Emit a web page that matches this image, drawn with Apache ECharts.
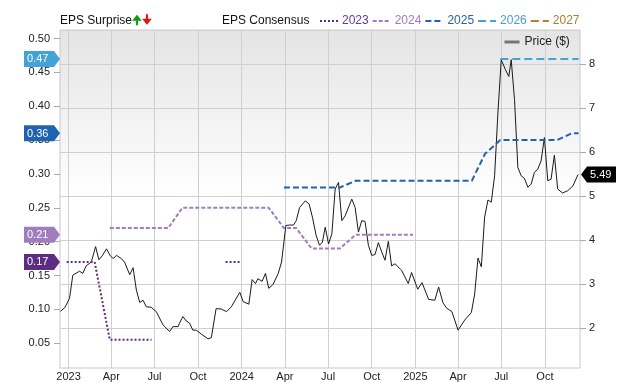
<!DOCTYPE html>
<html><head><meta charset="utf-8">
<script src="https://cdn.jsdelivr.net/npm/echarts@6/dist/echarts.min.js"></script>
<style>html,body{margin:0;padding:0;background:#fff}#c{width:640px;height:382px}</style>
</head><body><div id="c"></div>
<script>
const FONT = '"Liberation Sans", Arial, sans-serif';

// ---- axes ----
const xRange = ['2022-12-14', '2025-12-14'];
const xTicks = ['2023-01-01','2023-04-01','2023-07-01','2023-10-01','2024-01-01','2024-04-01','2024-07-01','2024-10-01','2025-01-01','2025-04-01','2025-07-01','2025-10-01'];
const monthLabels = {3:'Apr', 6:'Jul', 9:'Oct'};
const epsRange = [0.0133, 0.5127];
const epsTicks = [0.05,0.10,0.15,0.20,0.25,0.30,0.35,0.40,0.45,0.50];
const priceRange = [1.089, 8.776];
const priceTicks = [2,3,4,5,6,7,8];

// ---- price ($) ----
const priceDates = ['2022-12-15','2022-12-24','2023-01-03','2023-01-10','2023-01-24','2023-01-31','2023-02-07','2023-02-18','2023-02-27','2023-03-06','2023-03-13','2023-03-22','2023-03-30','2023-04-05','2023-04-12','2023-04-22','2023-04-29','2023-05-10','2023-05-17','2023-05-24','2023-05-31','2023-06-07','2023-06-14','2023-06-24','2023-07-05','2023-07-19','2023-08-02','2023-08-09','2023-08-20','2023-08-23','2023-08-30','2023-09-06','2023-09-13','2023-09-20','2023-09-27','2023-10-08','2023-10-22','2023-10-29','2023-11-08','2023-11-19','2023-11-30','2023-12-10','2023-12-28','2024-01-04','2024-01-16','2024-01-23','2024-01-30','2024-02-04','2024-02-13','2024-02-20','2024-02-27','2024-03-07','2024-03-18','2024-03-25','2024-04-03','2024-04-11','2024-04-19','2024-04-25','2024-05-02','2024-05-14','2024-05-22','2024-05-29','2024-06-06','2024-06-13','2024-06-19','2024-06-25','2024-07-02','2024-07-09','2024-07-16','2024-07-23','2024-07-30','2024-08-06','2024-08-20','2024-08-27','2024-09-03','2024-09-10','2024-09-17','2024-09-24','2024-10-01','2024-10-08','2024-10-15','2024-10-22','2024-10-29','2024-11-05','2024-11-12','2024-11-19','2024-12-03','2024-12-17','2024-12-24','2025-01-06','2025-01-15','2025-01-29','2025-02-11','2025-02-19','2025-02-28','2025-03-07','2025-03-19','2025-04-01','2025-04-15','2025-04-29','2025-05-06','2025-05-13','2025-05-20','2025-05-27','2025-06-03','2025-06-10','2025-06-17','2025-06-24','2025-07-01','2025-07-10','2025-07-17','2025-07-22','2025-07-29','2025-08-05','2025-08-12','2025-08-19','2025-08-26','2025-09-02','2025-09-09','2025-09-16','2025-09-23','2025-09-30','2025-10-07','2025-10-14','2025-10-21','2025-10-28','2025-11-07','2025-11-18','2025-11-29','2025-12-10'];
const priceValues = [2.38,2.46,2.67,3.20,3.29,3.24,3.41,3.50,3.85,3.55,3.64,3.80,3.64,3.58,3.65,3.58,3.50,3.21,3.37,2.86,2.58,2.63,2.48,2.47,2.37,2.07,1.92,2.03,2.03,2.11,2.26,2.16,2.11,1.95,1.95,1.86,1.75,1.78,2.44,2.43,2.37,2.48,2.81,2.60,2.54,3.10,3.01,3.12,3.06,3.24,2.90,2.99,3.24,3.50,4.33,4.34,4.34,4.44,4.74,4.89,4.82,4.52,4.10,3.88,3.95,4.29,3.91,4.14,5.16,5.31,4.44,4.55,4.93,4.74,4.18,4.44,4.42,3.88,3.65,3.67,3.94,3.73,3.54,3.97,3.41,3.46,3.31,3.01,3.26,2.88,3.03,2.65,2.63,2.93,2.58,2.46,2.37,1.95,2.18,2.35,2.77,3.59,3.39,4.52,4.91,4.86,5.46,6.89,8.10,7.87,7.72,8.10,7.19,5.65,5.46,5.40,5.20,5.27,5.54,5.61,5.80,6.33,5.35,5.38,5.93,5.16,5.07,5.12,5.23,5.49];

// ---- EPS consensus by fiscal year (null = gap) ----
const eps2023Dates = ['2022-12-28','2023-02-25','2023-03-29','2023-06-25','2023-09-01','2023-11-28','2023-12-28'];
const eps2023Values = [0.17,0.17,0.055,0.055,null,0.17,0.17];
const eps2024Dates = ['2023-03-29','2023-07-30','2023-08-29','2024-02-27','2024-03-30','2024-04-25','2024-05-27','2024-07-26','2024-08-28','2024-12-27'];
const eps2024Values = [0.22,0.22,0.25,0.25,0.22,0.22,0.19,0.19,0.21,0.21];
const eps2025Dates = ['2024-03-30','2024-07-26','2024-08-28','2025-04-30','2025-05-28','2025-06-29','2025-10-26','2025-11-27','2025-12-11'];
const eps2025Values = [0.28,0.28,0.29,0.29,0.33,0.35,0.35,0.36,0.36];
const eps2026Dates = ['2025-06-29','2025-12-11'];
const eps2026Values = [0.47,0.47];
const eps2027Dates = [];
const eps2027Values = [];

const yearNames = ['2023','2024','2025','2026','2027'];
const yearColors = ['#5c2d83','#a27dbd','#1f63b0','#41a3d6','#b07f2f'];
const yearText = ['#6a3a90','#a07cb8','#2a62ab','#4a9fcf','#a87c3a'];
const yearDash = [[2,2],[4,2],[6,3],[8,4],[8,4]];

const t = s => Date.parse(s + 'T00:00:00Z');
const pairs = (ds, vs) => ds.map((d, i) => [t(d), vs[i] === null ? '-' : vs[i]]);
const epsSets = [[eps2023Dates,eps2023Values],[eps2024Dates,eps2024Values],[eps2025Dates,eps2025Values],[eps2026Dates,eps2026Values],[eps2027Dates,eps2027Values]];

const chart = echarts.init(document.getElementById('c'), null, {renderer: 'canvas'});

const series = [{
  name: 'Price ($)', type: 'line', xAxisIndex: 0, yAxisIndex: 1, symbol: 'none', z: 2,
  data: pairs(priceDates, priceValues),
  lineStyle: {color: '#1a1a1a', width: 1}, itemStyle: {color: '#1a1a1a'}
}];
epsSets.forEach((s, i) => {
  series.push({
    name: yearNames[i], type: 'line', xAxisIndex: 0, yAxisIndex: 0, symbol: 'none', z: 3,
    data: pairs(s[0], s[1]), connectNulls: false,
    lineStyle: {color: yearColors[i], width: 2, type: yearDash[i]}, itemStyle: {color: yearColors[i]}
  });
});

const hiddenSymbol = {color: 'rgba(0,0,0,0)', borderWidth: 0, opacity: 0};

chart.setOption({
  animation: false,
  textStyle: {fontFamily: FONT},
  title: [
    {text: 'EPS Surprise{u|🠉}{d|🠋}', left: 60, top: 15, padding: 0,
     textStyle: {fontSize: 12, fontWeight: 'normal', color: '#111', fontFamily: FONT,
       rich: {u: {color: '#149a14', fontSize: 12, fontWeight: 'bold', fontFamily: 'DejaVu Sans'},
              d: {color: '#e01515', fontSize: 12, fontWeight: 'bold', fontFamily: 'DejaVu Sans'}}}},
    {text: 'EPS Consensus', left: 222, top: 15, padding: 0,
     textStyle: {fontSize: 12, fontWeight: 'normal', color: '#111', fontFamily: FONT}}
  ],
  legend: [
    {left: 319, top: 15, padding: 0, itemWidth: 18, itemHeight: 12, itemGap: 3,
     itemStyle: hiddenSymbol,
     data: yearNames.map((n, i) => ({name: n, textStyle: {color: yearText[i]}})),
     textStyle: {fontSize: 12, fontFamily: FONT, padding: [0, 0, 0, -1]}},
    {left: 503, top: 36, padding: 0, itemWidth: 15, itemHeight: 12, itemGap: 3,
     itemStyle: hiddenSymbol,
     data: ['Price ($)'], lineStyle: {color: '#777', width: 3},
     textStyle: {fontSize: 12, color: '#222', fontFamily: FONT}}
  ],
  grid: {left: 60, right: 60, top: 30, bottom: 12, show: true, borderColor: '#c8c8c8', borderWidth: 1,
    backgroundColor: new echarts.graphic.LinearGradient(0, 0, 0, 1, [
      {offset: 0, color: '#e4e4e4'}, {offset: 0.5, color: '#ffffff'}, {offset: 1, color: '#ffffff'}])},
  xAxis: {
    type: 'value', min: t(xRange[0]), max: t(xRange[1]),
    axisLine: {show: false},
    axisTick: {show: false, customValues: xTicks.map(t)},
    axisLabel: {customValues: xTicks.map(t), margin: 3, fontSize: 11, color: '#222', fontFamily: FONT,
      formatter: v => { const d = new Date(v); const m = d.getUTCMonth(); return m === 0 ? String(d.getUTCFullYear()) : monthLabels[m]; }},
    splitLine: {show: true, lineStyle: {color: '#cfcfcf', width: 1}}
  },
  yAxis: [
    {type: 'value', position: 'left', min: epsRange[0], max: epsRange[1],
     axisLine: {show: false},
     axisTick: {show: true, length: 6, customValues: epsTicks, lineStyle: {color: '#aaa'}},
     axisLabel: {customValues: epsTicks, margin: 10, fontSize: 11, color: '#222', fontFamily: FONT, formatter: v => v.toFixed(2)},
     splitLine: {show: false}},
    {type: 'value', position: 'right', min: priceRange[0], max: priceRange[1],
     axisLine: {show: false},
     axisTick: {show: true, length: 6, customValues: priceTicks, lineStyle: {color: '#aaa'}},
     axisLabel: {customValues: priceTicks, margin: 9, fontSize: 11, color: '#222', fontFamily: FONT},
     splitLine: {show: true, lineStyle: {color: '#cfcfcf', width: 1}}}
  ],
  series: series
});

// value badges placed through the axes' own scales
function lastVal(vs) { for (let i = vs.length - 1; i >= 0; i--) if (vs[i] !== null) return vs[i]; return null; }
const graphics = [];
const gx0 = chart.convertToPixel({xAxisIndex: 0}, t(xRange[0]));
const gx1 = chart.convertToPixel({xAxisIndex: 0}, t(xRange[1]));
[3, 2, 1, 0].forEach(i => {
  const v = lastVal(epsSets[i][1]);
  if (v === null) return;
  const y = chart.convertToPixel({yAxisIndex: 0}, v);
  graphics.push({type: 'polygon', z: 10,
    shape: {points: [[gx0 - 36, y - 8], [gx0 - 6, y - 8], [gx0, y], [gx0 - 6, y + 8], [gx0 - 36, y + 8]]},
    style: {fill: yearColors[i]}});
  graphics.push({type: 'text', z: 11, x: gx0 - 33, y: y + 0.5,
    style: {text: v.toFixed(2), fill: '#fff', font: '11px ' + FONT, align: 'left', verticalAlign: 'middle'}});
});
const pv = priceValues[priceValues.length - 1];
const py = chart.convertToPixel({yAxisIndex: 1}, pv);
graphics.push({type: 'polygon', z: 10,
  shape: {points: [[gx1 + 1, py], [gx1 + 7, py - 8], [gx1 + 36, py - 8], [gx1 + 36, py + 8], [gx1 + 7, py + 8]]},
  style: {fill: '#000'}});
graphics.push({type: 'text', z: 11, x: gx1 + 10, y: py + 0.5,
  style: {text: pv.toFixed(2), fill: '#fff', font: '11px ' + FONT, align: 'left', verticalAlign: 'middle'}});
chart.setOption({graphic: graphics});
</script>
</body></html>
